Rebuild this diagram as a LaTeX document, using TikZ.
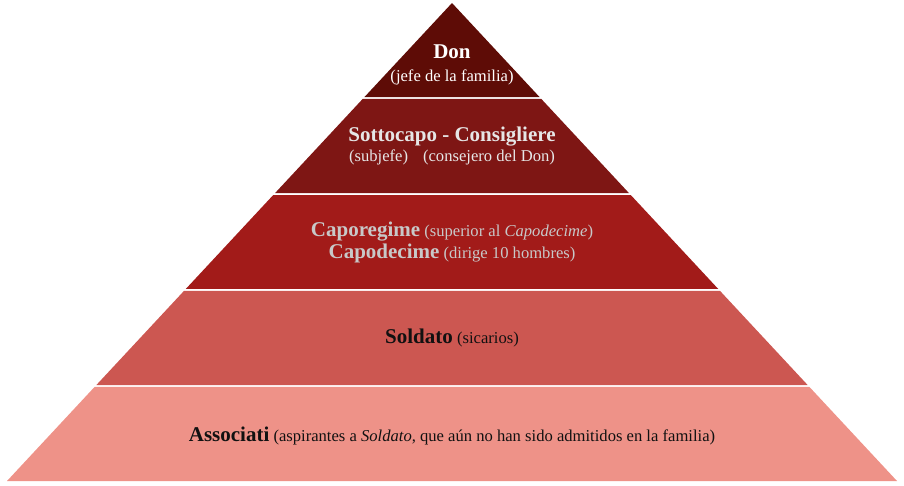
\documentclass[tikz,border=0pt]{standalone}
\usepackage{fontspec}
\setmainfont{Liberation Serif}
\usetikzlibrary{calc}
\definecolor{cdon}{HTML}{5E0C06}
\definecolor{csotto}{HTML}{7E1614}
\definecolor{ccapo}{HTML}{A21B19}
\definecolor{csold}{HTML}{CC5751}
\definecolor{cassoc}{HTML}{EE9288}
\definecolor{tlight}{HTML}{E6E6E6}
\definecolor{tgray}{HTML}{C8C8C8}
\definecolor{tdark}{HTML}{111111}
\newcommand{\bigname}[1]{{\fontsize{21}{24}\selectfont\bfseries #1}}
\begin{document}
\begin{tikzpicture}[x=1pt,y=-1pt,
  lbl/.style={align=center,inner sep=0pt,font=\fontsize{16.6}{19}\selectfont}]
\useasboundingbox (0,0) rectangle (904,485);
\coordinate (A) at (452,3);
\coordinate (L) at (7,481);
\coordinate (R) at (897,481);
\def\bandpoly#1#2#3{%
  \fill[#3] ($(A)!#1!(L)$) -- ($(A)!#2!(L)$) -- ($(A)!#2!(R)$) -- ($(A)!#1!(R)$) -- cycle;}
\fill[cdon] (A) -- ($(A)!0.1967!(L)$) -- ($(A)!0.1967!(R)$) -- cycle;
\bandpoly{0.2008}{0.3975}{csotto}
\bandpoly{0.4017}{0.5983}{ccapo}
\bandpoly{0.6025}{0.7992}{csold}
\bandpoly{0.8033}{1}{cassoc}
\node[lbl,text=white] (don) at (452,52) {\bigname{Don}};
\node[lbl,text=white] (donsub) at (452,77) {(jefe de la familia)};
\node[lbl,text=tlight] (sotto) at (452,137) {\bigname{Sottocapo - Consigliere}};
\node[lbl,text=tlight] (sottosub) at (452,157) {(subjefe)\hspace{0.9em}(consejero del Don)};
\node[lbl,text=tgray] (capo) at (452,232) {\bigname{Caporegime} (superior al \textit{Capodecime})};
\node[lbl,text=tgray] (capod) at (452,253) {\bigname{Capodecime} (dirige 10 hombres)};
\node[lbl,text=tdark] (sold) at (452,338) {\bigname{Soldato} (sicarios)};
\node[lbl,text=tdark] (assoc) at (452,436) {\bigname{Associati} (aspirantes a \textit{Soldato}, que aún no han sido admitidos en la familia)};
\end{tikzpicture}
\end{document}
